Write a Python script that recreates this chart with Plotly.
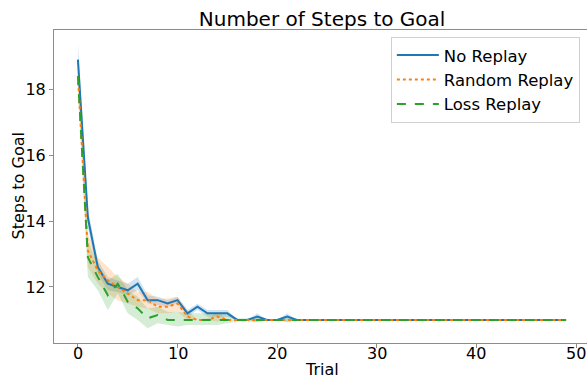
import plotly.graph_objects as go

# Trial index
trials = list(range(50))

# Mean steps to goal per trial, with lower/upper band edges
no_replay = [18.9, 14.1, 12.6, 12.1, 12.0, 11.9, 12.1, 11.6, 11.6, 11.5,
             11.6, 11.2, 11.4, 11.2, 11.2, 11.2, 11.0, 11.0, 11.1, 11.0,
             11.0, 11.1, 11.0, 11.0, 11.0, 11.0, 11.0, 11.0, 11.0, 11.0,
             11.0, 11.0, 11.0, 11.0, 11.0, 11.0, 11.0, 11.0, 11.0, 11.0,
             11.0, 11.0, 11.0, 11.0, 11.0, 11.0, 11.0, 11.0, 11.0, 11.0]
no_replay_lo = [18.5, 13.8, 12.4, 11.9, 11.85, 11.75, 11.9, 11.5, 11.45, 11.4,
                11.5, 11.1, 11.3, 11.1, 11.1, 11.1, 11.0, 11.0, 10.95, 11.0,
                11.0, 10.95, 11.0, 11.0, 11.0, 11.0, 11.0, 11.0, 11.0, 11.0,
                11.0, 11.0, 11.0, 11.0, 11.0, 11.0, 11.0, 11.0, 11.0, 11.0,
                11.0, 11.0, 11.0, 11.0, 11.0, 11.0, 11.0, 11.0, 11.0, 11.0]
no_replay_hi = [19.4, 14.4, 12.8, 12.3, 12.2, 12.1, 12.3, 11.75, 11.7, 11.6,
                11.7, 11.3, 11.5, 11.3, 11.3, 11.3, 11.0, 11.0, 11.2, 11.0,
                11.0, 11.2, 11.0, 11.0, 11.0, 11.0, 11.0, 11.0, 11.0, 11.0,
                11.0, 11.0, 11.0, 11.0, 11.0, 11.0, 11.0, 11.0, 11.0, 11.0,
                11.0, 11.0, 11.0, 11.0, 11.0, 11.0, 11.0, 11.0, 11.0, 11.0]

random_replay = [18.4, 13.1, 12.5, 12.2, 12.0, 11.8, 11.6, 11.6, 11.4, 11.4,
                 11.5, 11.1, 11.0, 11.0, 11.1, 11.0, 11.0, 11.0, 11.0, 11.0,
                 11.0, 11.0, 11.0, 11.0, 11.0, 11.0, 11.0, 11.0, 11.0, 11.0,
                 11.0, 11.0, 11.0, 11.0, 11.0, 11.0, 11.0, 11.0, 11.0, 11.0,
                 11.0, 11.0, 11.0, 11.0, 11.0, 11.0, 11.0, 11.0, 11.0, 11.0]
random_replay_lo = [18.0, 12.6, 12.1, 11.8, 11.6, 11.5, 11.4, 11.35, 11.2, 11.2,
                    11.25, 11.0, 11.0, 11.0, 10.95, 11.0, 11.0, 11.0, 11.0, 11.0,
                    11.0, 11.0, 11.0, 11.0, 11.0, 11.0, 11.0, 11.0, 11.0, 11.0,
                    11.0, 11.0, 11.0, 11.0, 11.0, 11.0, 11.0, 11.0, 11.0, 11.0,
                    11.0, 11.0, 11.0, 11.0, 11.0, 11.0, 11.0, 11.0, 11.0, 11.0]
random_replay_hi = [18.8, 13.6, 12.9, 12.6, 12.3, 12.1, 11.85, 11.85, 11.65, 11.65,
                    11.7, 11.3, 11.0, 11.05, 11.25, 11.0, 11.0, 11.0, 11.0, 11.0,
                    11.0, 11.0, 11.0, 11.0, 11.0, 11.0, 11.0, 11.0, 11.0, 11.0,
                    11.0, 11.0, 11.0, 11.0, 11.0, 11.0, 11.0, 11.0, 11.0, 11.0,
                    11.0, 11.0, 11.0, 11.0, 11.0, 11.0, 11.0, 11.0, 11.0, 11.0]

loss_replay = [18.4, 12.9, 12.3, 11.75, 12.1, 11.55, 11.35, 11.05, 11.15, 11.0,
               11.0, 11.0, 11.0, 11.0, 11.0, 11.0, 11.0, 11.0, 11.0, 11.0,
               11.0, 11.0, 11.0, 11.0, 11.0, 11.0, 11.0, 11.0, 11.0, 11.0,
               11.0, 11.0, 11.0, 11.0, 11.0, 11.0, 11.0, 11.0, 11.0, 11.0,
               11.0, 11.0, 11.0, 11.0, 11.0, 11.0, 11.0, 11.0, 11.0, 11.0]
loss_replay_lo = [18.0, 12.3, 11.9, 11.3, 11.8, 11.2, 11.0, 10.75, 10.9, 10.85,
                  10.8, 10.85, 10.85, 10.85, 10.85, 10.9, 10.95, 10.95, 10.92, 11.0,
                  11.0, 10.92, 11.0, 11.0, 11.0, 11.0, 11.0, 11.0, 11.0, 11.0,
                  11.0, 11.0, 11.0, 11.0, 11.0, 11.0, 11.0, 11.0, 11.0, 11.0,
                  11.0, 11.0, 11.0, 11.0, 11.0, 11.0, 11.0, 11.0, 11.0, 11.0]
loss_replay_hi = [18.8, 13.4, 12.7, 12.2, 12.4, 11.9, 11.7, 11.35, 11.4, 11.25,
                  11.25, 11.2, 11.2, 11.2, 11.2, 11.15, 11.05, 11.05, 11.08, 11.0,
                  11.0, 11.08, 11.0, 11.0, 11.0, 11.0, 11.0, 11.0, 11.0, 11.0,
                  11.0, 11.0, 11.0, 11.0, 11.0, 11.0, 11.0, 11.0, 11.0, 11.0,
                  11.0, 11.0, 11.0, 11.0, 11.0, 11.0, 11.0, 11.0, 11.0, 11.0]

x_ticks = [0, 10, 20, 30, 40, 50]
y_ticks = [12, 14, 16, 18]

series = [
    ("No Replay", no_replay, no_replay_lo, no_replay_hi, "#1f77b4", "rgba(31,119,180,0.2)", "solid"),
    ("Random Replay", random_replay, random_replay_lo, random_replay_hi, "#ff7f0e", "rgba(255,127,14,0.2)", "dot"),
    ("Loss Replay", loss_replay, loss_replay_lo, loss_replay_hi, "#2ca02c", "rgba(44,160,44,0.2)", "dash"),
]

FONT = "DejaVu Sans"
fig = go.Figure()

# Shaded bands first so the lines sit on top
for name, mean, lo, hi, color, fillc, dash in series:
    fig.add_trace(go.Scatter(x=trials + trials[::-1], y=hi + lo[::-1],
                             fill="toself", fillcolor=fillc, mode="lines",
                             line=dict(width=0), hoverinfo="skip", showlegend=False))

for name, mean, lo, hi, color, fillc, dash in series:
    fig.add_trace(go.Scatter(x=trials, y=mean, mode="lines", name=name,
                             line=dict(color=color, width=2, dash=dash)))

axis_line = "#8c8c8c"
x_range = [-2.4, 51.1]

# The right-most tick label sits against the page edge, so the x tick labels
# are written as annotations at the tick positions instead of axis labels.
tick_annotations = [
    dict(text=str(v), x=v, xref="x", y=-(353.5 - 343) / 313, yref="paper",
         xanchor="center", yanchor="middle", showarrow=False,
         font=dict(size=16, family=FONT, color="black"))
    for v in x_ticks
]

fig.update_layout(
    width=587, height=381,
    margin=dict(l=54, r=0, t=30, b=38),
    paper_bgcolor="white", plot_bgcolor="white",
    font=dict(family=FONT, size=16, color="black"),
    title=dict(text="Number of Steps to Goal", font=dict(size=20, family=FONT, color="black"),
               x=0.503, xref="paper", xanchor="center",
               y=1 - 19 / 381, yref="container", yanchor="middle"),
    xaxis=dict(range=x_range, tickvals=x_ticks, showticklabels=False,
               showgrid=False, zeroline=False, showline=True, linecolor=axis_line,
               linewidth=1, mirror=True, ticks="outside", ticklen=4, tickcolor=axis_line),
    yaxis=dict(range=[10.3, 19.8], tickvals=y_ticks,
               showgrid=False, zeroline=False, showline=True, linecolor=axis_line,
               linewidth=1, ticks="outside", ticklen=4, tickcolor=axis_line,
               tickfont=dict(size=16, family=FONT, color="black")),
    legend=dict(x=0.632, y=0.978, xanchor="left", yanchor="top",
                bgcolor="rgba(255,255,255,0.8)", bordercolor="#d0d0d0", borderwidth=1,
                font=dict(size=16.5, family=FONT, color="black"),
                itemwidth=42, tracegroupgap=0),
    showlegend=True,
    annotations=tick_annotations + [
        dict(text="Trial", xref="paper", yref="paper", x=0.503, y=-(370 - 343) / 313,
             xanchor="center", yanchor="middle", showarrow=False,
             font=dict(size=16, family=FONT, color="black")),
        dict(text="Steps to Goal", xref="paper", yref="paper", x=-(54 - 18) / 533, y=0.5,
             xanchor="center", yanchor="middle", textangle=-90, showarrow=False,
             font=dict(size=16, family=FONT, color="black")),
    ],
)

fig.write_html("out.html")
